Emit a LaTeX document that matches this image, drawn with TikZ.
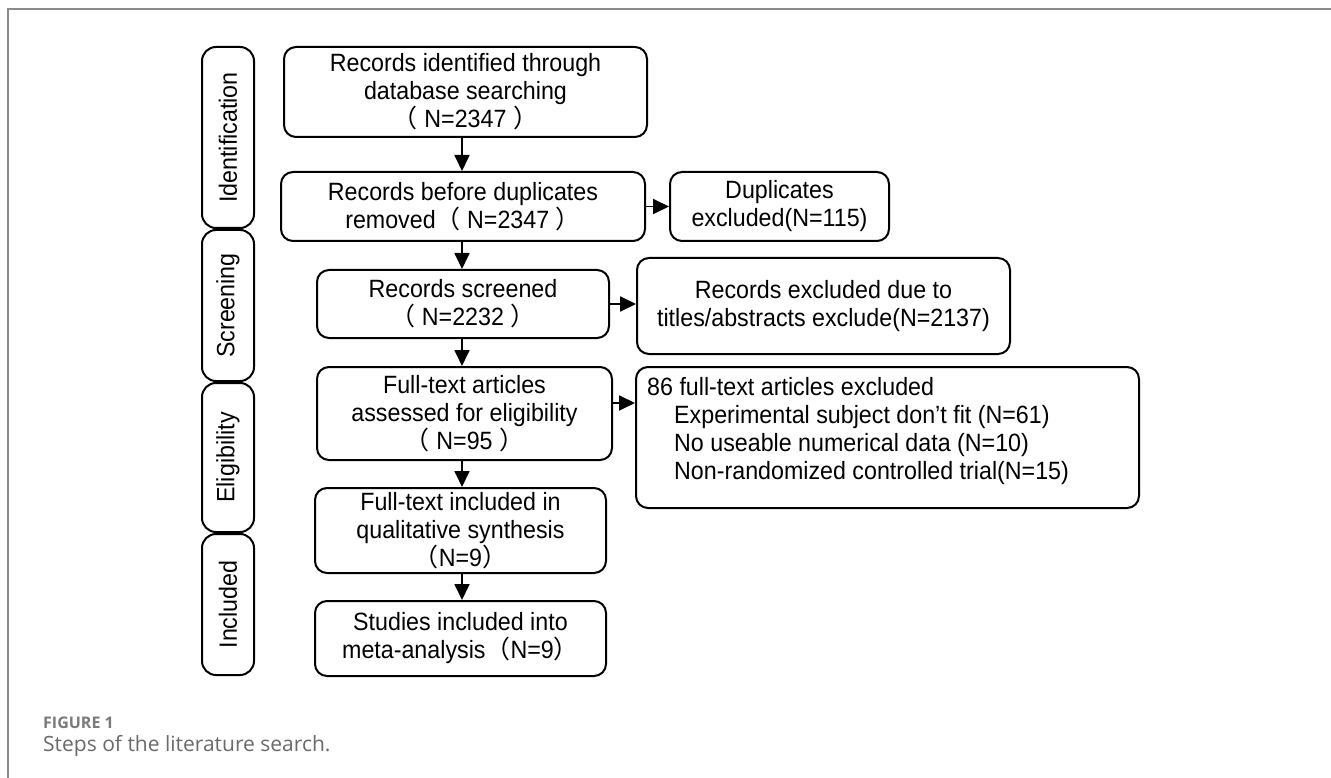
\documentclass[tikz,border=0pt]{standalone}
\usepackage{fontspec}
\setmainfont{Liberation Sans}[FakeStretch=0.93]
\newfontfamily\cjkfont{Noto Sans CJK SC}
\newfontfamily\capfont{Open Sans}
\usetikzlibrary{arrows.meta}
\newcommand\myLP{{\cjkfont （}}
\newcommand\myRP{{\cjkfont ）}}
\definecolor{capgray}{HTML}{6A6A6A}
\definecolor{figgray}{HTML}{7A7A7A}
\definecolor{framegray}{HTML}{8A8A8A}
\begin{document}
\begin{tikzpicture}[x=1pt,y=-1pt,
  box/.style={draw, line width=2pt, rounded corners=12pt, align=center, inner sep=0pt,
    font=\fontsize{25}{28}\selectfont},
  sidebox/.style={draw, line width=2pt, rounded corners=14pt, minimum width=52pt, inner sep=0pt,
    font=\fontsize{25}{28}\selectfont},
  arr/.style={line width=1.8pt, -{Triangle[length=16pt,width=15pt]}},
  captext/.style={anchor=west, inner sep=0pt}]
\useasboundingbox (0,0) rectangle (1331,778);
\fill[white] (0,0) rectangle (1331,778);
\draw[framegray, line width=1.4pt] (8,778) -- (8,9) -- (1331,9);

% side labels
\node[sidebox, minimum height=181pt] (sId) at (228,137.5) {\rotatebox{90}{Identification}};
\node[sidebox, minimum height=151pt] (sSc) at (228,305.5) {\rotatebox{90}{Screening}};
\node[sidebox, minimum height=149pt] (sEl) at (228,457.5) {\rotatebox{90}{Eligibility}};
\node[sidebox, minimum height=141pt] (sIn) at (228,604.5) {\rotatebox{90}{Included}};

% main column
\node[box, minimum width=363pt, minimum height=90pt] (b1) at (465.5,92)
  {Records identified through\\database searching\\\myLP\ N=2347 \myRP};
\node[box, minimum width=364pt, minimum height=69pt] (b2) at (463,206.5)
  {Records before duplicates\\removed\myLP\ N=2347 \myRP};
\node[box, minimum width=292pt, minimum height=68pt] (b3) at (463,304)
  {Records screened\\\myLP\ N=2232 \myRP};
\node[box, minimum width=295pt, minimum height=93pt] (b4) at (464.5,413.5)
  {Full-text articles\\assessed for eligibility\\\myLP\ N=95 \myRP};
\node[box, minimum width=291pt, minimum height=85pt] (b5) at (460.5,530.5)
  {Full-text included in\\qualitative synthesis\\\myLP N=9\myRP};
\node[box, minimum width=291pt, minimum height=75pt] (b6) at (460.5,638.5)
  {Studies included into\\meta-analysis\myLP N=9\myRP};

% right column
\node[box, minimum width=219pt, minimum height=69pt] (dup) at (779.5,206.5)
  {Duplicates\\excluded(N=115)};
\node[box, minimum width=373pt, minimum height=96pt] (excl) at (823.5,306)
  {Records excluded due to\\titles/abstracts exclude(N=2137)};
\node[box, minimum width=503pt, minimum height=141pt] (b86) at (887.5,437.5) {};
\node[anchor=west, align=left, inner sep=0pt, font=\fontsize{25}{28}\selectfont] (t86) at (647,431.5)
  {86 full-text articles excluded\\
   \hspace*{27pt}Experimental subject don't fit (N=61)\\
   \hspace*{27pt}No useable numerical data (N=10)\\
   \hspace*{27pt}Non-randomized controlled trial(N=15)};

% arrows
\coordinate (ax) at (462,0);
\coordinate (ay) at (0,403);
\draw[arr] (b1.south -| ax) -- (b2.north -| ax);
\draw[arr] (b2.south -| ax) -- (b3.north -| ax);
\draw[arr] (b3.south -| ax) -- (b4.north -| ax);
\draw[arr] (b4.south -| ax) -- (b5.north -| ax);
\draw[arr] (b5.south -| ax) -- (b6.north -| ax);
\draw[arr] (b2.east) -- (dup.west);
\draw[arr] (b3.east) -- (b3.east -| excl.west);
\draw[arr] (b4.east |- ay) -- (b86.west |- ay);

% caption
\node[captext, text=figgray, font=\capfont\bfseries\fontsize{16}{18}\selectfont] (cap1) at (43,723) {FIGURE 1};
\node[captext, text=capgray, font=\capfont\fontsize{21}{24}\selectfont] (cap2) at (43,746) {Steps of the literature search.};
\end{tikzpicture}
\end{document}
